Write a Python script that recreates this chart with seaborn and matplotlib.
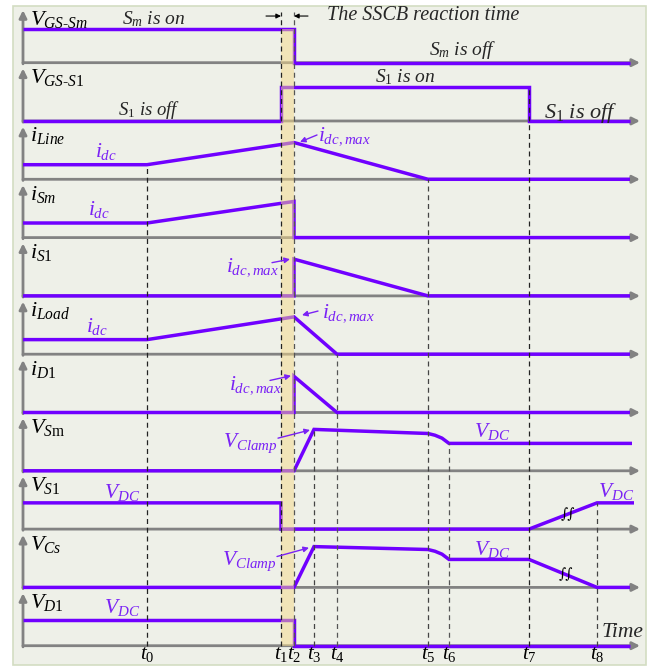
import numpy as np
import pandas as pd
import matplotlib
matplotlib.use('Agg')
import matplotlib.pyplot as plt
import seaborn as sns
from matplotlib.patches import Rectangle

sns.set_theme(style='white')
plt.rcParams['font.family'] = ['Liberation Serif', 'DejaVu Serif']
plt.rcParams['mathtext.fontset'] = 'custom'
plt.rcParams['mathtext.rm'] = 'Liberation Serif'
plt.rcParams['mathtext.it'] = 'Liberation Serif:italic'
plt.rcParams['mathtext.bf'] = 'Liberation Serif:bold'

# ---------------- data ----------------
event_labels = [r'$t_0$', r'$t_1$', r'$t_2$', r'$t_3$', r'$t_4$', r'$t_5$', r'$t_6$', r'$t_7$', r'$t_8$']
event_times = [1.24, 2.58, 2.71, 2.91, 3.14, 4.05, 4.26, 5.06, 5.74]
t0, t1, t2, t3, t4, t5, t6, t7, t8 = event_times
t_end = 6.07
t_axis_end = 6.17

signal_names = ['V_GS-Sm', 'V_GS-S1', 'i_Line', 'i_Sm', 'i_S1', 'i_Load', 'i_D1',
                'V_Sm', 'V_S1', 'V_Cs', 'V_D1']
signal_labels = [r'$V_{GS\text{-}Sm}$', r'$V_{GS\text{-}S1}$', r'$i_{Line}$', r'$i_{Sm}$',
                 r'$i_{S1}$', r'$i_{Load}$', r'$i_{D1}$', r'$V_{S\mathrm{m}}$', r'$V_{S1}$',
                 r'$V_{Cs}$', r'$V_{D1}$']

vgs_sm_t = [0, t2, t2, t_end]
vgs_sm_v = [0.58, 0.58, 0, 0]
vgs_s1_t = [0, t1, t1, t7, t7, t_end]
vgs_s1_v = [0, 0, 0.59, 0.59, 0, 0]
iline_t = [0, t0, t2, t5, t_end]
iline_v = [0.25, 0.25, 0.63, 0, 0]
ism_t = [0, t0, t2, t2, t_end]
ism_v = [0.25, 0.25, 0.62, 0, 0]
is1_t = [0, t2, t2, t5, t_end]
is1_v = [0, 0, 0.63, 0, 0]
iload_t = [0, t0, t2, t4, t_end]
iload_v = [0.25, 0.25, 0.64, 0, 0]
id1_t = [0, t2, t2, t4, t_end]
id1_v = [0, 0, 0.62, 0, 0]
vsm_t = [0, t2, t3, t5, 4.12, 4.19, t6, 6.09]
vsm_v = [0, 0, 0.71, 0.64, 0.61, 0.56, 0.47, 0.47]
vs1_t = [0, t1, t1, t7, t8, 6.11]
vs1_v = [0.45, 0.45, 0, 0, 0.45, 0.45]
vcs_t = [0, t2, t3, t5, 4.12, 4.19, t6, t7, t8, t_end]
vcs_v = [0, 0, 0.70, 0.65, 0.62, 0.57, 0.48, 0.48, 0, 0]
vd1_t = [0, t2, t2, t_end]
vd1_v = [0.44, 0.44, 0, 0]

waves = [(vgs_sm_t, vgs_sm_v), (vgs_s1_t, vgs_s1_v), (iline_t, iline_v), (ism_t, ism_v),
         (is1_t, is1_v), (iload_t, iload_v), (id1_t, id1_v), (vsm_t, vsm_v),
         (vs1_t, vs1_v), (vcs_t, vcs_v), (vd1_t, vd1_v)]

n_rows = len(signal_names)
def base(r):
    return (n_rows - 1) - r

rows = []
for r, (name, (ts, vs)) in enumerate(zip(signal_names, waves)):
    for k, (tt, vv) in enumerate(zip(ts, vs)):
        rows.append({'signal': name, 'order': k, 'time': tt, 'y': base(r) + vv})
df = pd.DataFrame(rows)

# ---------------- style ----------------
PURPLE = '#7000FF'
PTXT = '#7A22F5'
GRAY = '#828282'

fig = plt.figure(figsize=(6.66, 6.66), dpi=100)
fig.patch.set_facecolor('white')
ax = fig.add_axes([0, 0, 1, 1])
ax.set_facecolor('none')

ax.add_patch(Rectangle((-0.10, -0.331), 6.33, 11.30, facecolor='#EEF0E8',
                       edgecolor='#D3DDC2', lw=1.2, zorder=0))

# axes arrows
for r in range(n_rows):
    b = base(r)
    ax.annotate('', xy=(t_axis_end, b), xytext=(0, b),
                arrowprops=dict(arrowstyle='-|>', color=GRAY, lw=2.0, mutation_scale=11,
                                shrinkA=0, shrinkB=0), zorder=1)
    ax.annotate('', xy=(0, b + 0.9), xytext=(0, b - 0.02),
                arrowprops=dict(arrowstyle='-|>', color=GRAY, lw=2.0, mutation_scale=11,
                                shrinkA=0, shrinkB=0), zorder=1)
    ax.text(0.07, b + 0.65, signal_labels[r], fontsize=16, color='black',
            ha='left', va='baseline', zorder=6)

# waveforms
sns.lineplot(data=df, x='time', y='y', units='signal', estimator=None, sort=False,
             color=PURPLE, linewidth=2.5, ax=ax, legend=False, zorder=3,
             solid_joinstyle='miter', solid_capstyle='butt')

# reaction-time shading
ax.fill_betweenx([base(n_rows - 1), base(0) + vgs_sm_v[0]], t1, t2,
                 color='#F5D98A', alpha=0.5, lw=0, zorder=4)

# dashed event lines
dash_tops = [base(2) + iline_v[1],
             base(0) + 0.87,
             base(0) + 0.87,
             base(7) + vsm_v[2],
             base(5),
             base(2),
             base(7) + vsm_v[6],
             base(1) + vgs_s1_v[2],
             base(8) + vs1_v[4]]
dash_colors = ['#222222', '#222222', '#555555', '#444444', '#555555', '#444444',
               '#555555', '#222222', '#444444']
for tt, top, c in zip(event_times, dash_tops, dash_colors):
    ax.plot([tt, tt], [base(n_rows - 1), top], color=c, lw=0.9, dashes=(4, 3), zorder=5)

for tt, lab in zip(event_times, event_labels):
    ax.text(tt, -0.225, lab, fontsize=15, ha='center', va='baseline', color='black')

# top annotations
ya = base(0) + 0.80
ax.annotate('', xy=(t1, ya), xytext=(t1 - 0.15, ya),
            arrowprops=dict(arrowstyle='-|>', color='black', lw=0.8, mutation_scale=7,
                            shrinkA=0, shrinkB=0))
ax.annotate('', xy=(t2, ya), xytext=(t2 + 0.14, ya),
            arrowprops=dict(arrowstyle='-|>', color='black', lw=0.8, mutation_scale=7,
                            shrinkA=0, shrinkB=0))
ax.text(3.04, base(0) + 0.73, 'The SSCB reaction time', fontsize=14.5, style='italic',
        ha='left', va='baseline')
ax.text(1.31, base(0) + 0.66, r'$S_m$ is on', fontsize=14, style='italic', ha='center', va='baseline')
ax.text(4.40, base(0) + 0.13, r'$S_m$ is off', fontsize=14, style='italic', ha='center', va='baseline')
ax.text(3.825, base(1) + 0.67, r'$S_1$ is on', fontsize=14, style='italic', ha='center', va='baseline')
ax.text(1.265, base(1) + 0.10, r'$S_1$ is off', fontsize=13.5, style='italic', ha='center', va='baseline')
ax.text(5.58, base(1) + 0.05, r'$S_1$ is off', fontsize=16, style='italic', ha='center', va='baseline')
ax.text(5.79, base(10) + 0.155, 'Time', fontsize=15.5, style='italic', ha='left', va='baseline')

# purple labels
def plabel(x, r, off, s, ha='center'):
    ax.text(x, base(r) + off, s, fontsize=15.5, color=PTXT, ha=ha, va='baseline', zorder=6)

def parrow(x0, y0, x1, y1, r):
    ax.annotate('', xy=(x1, base(r) + y1), xytext=(x0, base(r) + y0),
                arrowprops=dict(arrowstyle='-|>', color=PTXT, lw=1.0, mutation_scale=8,
                                shrinkA=0, shrinkB=0), zorder=6)

plabel(0.83, 2, 0.38, r'$i_{dc}$')
plabel(0.76, 3, 0.39, r'$i_{dc}$')
plabel(0.74, 5, 0.38, r'$i_{dc}$')
plabel(2.95, 2, 0.67, r'$i_{dc,max}$', ha='left')
parrow(2.94, 0.76, 2.77, 0.64, 2)
plabel(2.03, 4, 0.42, r'$i_{dc,max}$', ha='left')
parrow(2.49, 0.57, 2.67, 0.63, 4)
plabel(2.99, 5, 0.64, r'$i_{dc,max}$', ha='left')
parrow(2.95, 0.74, 2.79, 0.67, 5)
plabel(2.06, 6, 0.40, r'$i_{dc,max}$', ha='left')
parrow(2.47, 0.55, 2.68, 0.63, 6)
plabel(2.00, 7, 0.41, r'$V_{Clamp}$', ha='left')
parrow(2.55, 0.56, 2.87, 0.70, 7)
plabel(1.99, 9, 0.39, r'$V_{Clamp}$', ha='left')
parrow(2.54, 0.53, 2.86, 0.68, 9)
plabel(4.69, 7, 0.58, r'$V_{DC}$')
plabel(0.99, 8, 0.54, r'$V_{DC}$')
plabel(5.93, 8, 0.55, r'$V_{DC}$')
plabel(4.69, 9, 0.56, r'$V_{DC}$')
plabel(0.99, 10, 0.56, r'$V_{DC}$')

# break marks on the slow ramps
for r, ts, vs, frac in [(8, vs1_t[3:5], vs1_v[3:5], 0.57), (9, vcs_t[7:9], vcs_v[7:9], 0.54)]:
    xb = t7 + frac * (t8 - t7)
    yb = base(r) + np.interp(xb, ts, vs)
    ax.text(xb, yb, '\u222b\u222b', fontsize=10, ha='center', va='center', color='black',
            family='DejaVu Serif', style='italic', zorder=7)

ax.set_xlim(-0.23, 6.43)
ax.set_ylim(-0.348, 11.075)
ax.axis('off')

fig.savefig('out.png', dpi=100)
